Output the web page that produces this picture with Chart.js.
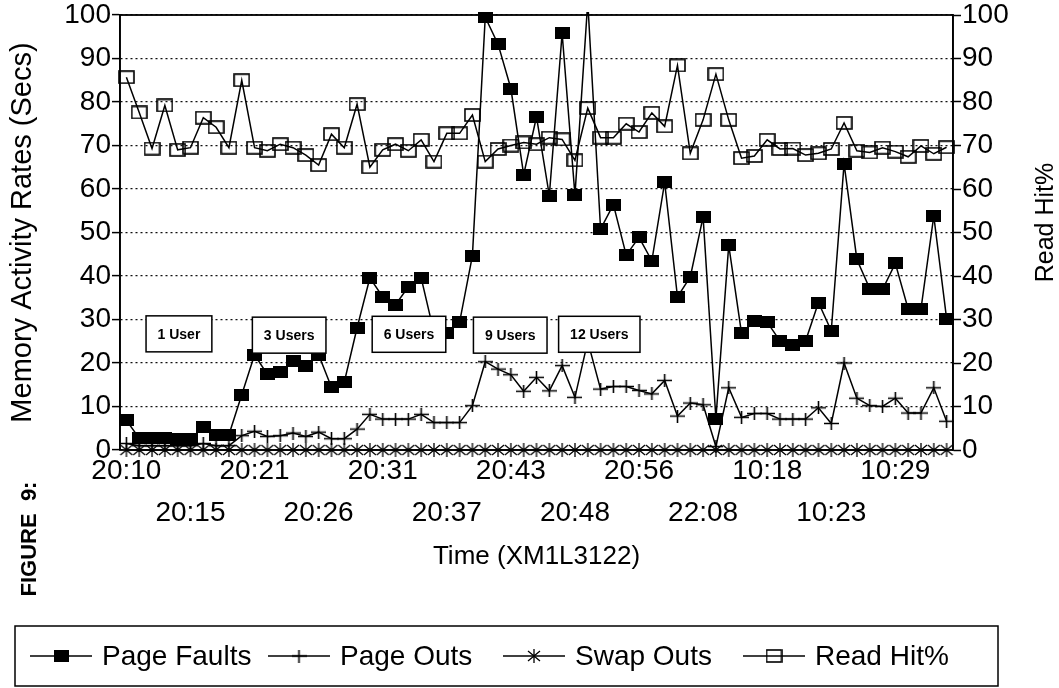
<!DOCTYPE html>
<html>
<head>
<meta charset="utf-8">
<script src="https://cdn.jsdelivr.net/npm/chart.js@4.4.1/dist/chart.umd.min.js"></script>
<style>
  html, body { margin: 0; padding: 0; background: #ffffff; }
  canvas { display: block; }
</style>
</head>
<body>
<canvas id="chart" width="1059" height="688"></canvas>
<script>
// Sample times shown under every fifth sample
const tickLabels = ['20:10', '20:15', '20:21', '20:26', '20:31', '20:37', '20:43',
                    '20:48', '20:56', '22:08', '10:18', '10:23', '10:29'];

// Memory activity rates (secs), left axis
const pageFaults = [6.8, 2.7, 2.8, 2.8, 2.6, 2.5, 5.3, 3.5, 3.5, 12.7,
                    21.9, 17.4, 18.0, 20.5, 19.4, 21.9, 14.4, 15.6, 28.1, 39.6,
                    35.2, 33.4, 37.5, 39.6, 27.0, 27.0, 29.4, 44.7, 99.5, 93.3,
                    83.1, 63.3, 76.6, 58.5, 95.8, 58.6, 103, 50.8, 56.4, 44.8,
                    48.9, 43.5, 61.5, 35.2, 39.8, 53.6, 7.2, 47.1, 26.8, 29.6,
                    29.4, 25.1, 24.1, 25.1, 33.9, 27.4, 65.8, 43.8, 37.1, 36.9,
                    42.9, 32.4, 32.4, 53.8, 30.2];
const pageOuts = [1.5, 1.0, 1.0, 1.0, 1.0, 1.0, 1.5, 1.0, 1.0, 3.3,
                  4.3, 3.1, 3.3, 3.9, 3.1, 4.1, 2.6, 2.6, 4.8, 8.2,
                  7.1, 7.1, 7.1, 8.2, 6.3, 6.3, 6.3, 10.2, 20.3, 18.6,
                  17.3, 13.5, 16.7, 13.6, 19.4, 12.1, 25.0, 14.0, 14.6, 14.6,
                  13.7, 12.9, 16.0, 7.8, 10.8, 10.4, 0.8, 14.3, 7.5, 8.4,
                  8.4, 7.1, 7.1, 7.1, 9.7, 6.1, 20.0, 11.9, 10.2, 10.0,
                  11.9, 8.5, 8.5, 14.3, 6.6];
const swapOuts = [0, 0, 0, 0, 0, 0, 0, 0, 0, 0,
                  0, 0, 0, 0, 0, 0, 0, 0, 0, 0,
                  0, 0, 0, 0, 0, 0, 0, 0, 0, 0,
                  0, 0, 0, 0, 0, 0, 0, 0, 0, 0,
                  0, 0, 0, 0, 0, 0, 0, 0, 0, 0,
                  0, 0, 0, 0, 0, 0, 0, 0, 0, 0,
                  0, 0, 0, 0, 0];
// Read hit percentage, right axis
const readHit = [85.7, 77.6, 69.3, 79.2, 69.0, 69.5, 76.4, 74.2, 69.5, 85.0,
                 69.5, 68.8, 70.3, 69.5, 67.8, 65.5, 72.6, 69.5, 79.5, 65.0,
                 69.0, 70.3, 68.8, 71.3, 66.3, 72.8, 72.8, 77.0, 66.3, 69.2,
                 70.0, 70.7, 70.3, 71.8, 71.4, 66.6, 78.6, 71.8, 71.8, 75.0,
                 73.1, 77.5, 74.4, 88.4, 68.2, 75.9, 86.4, 75.9, 67.1, 67.6,
                 71.3, 69.2, 69.3, 67.8, 68.2, 69.2, 75.2, 68.8, 68.4, 69.5,
                 68.6, 67.4, 69.9, 68.1, 69.6];

// User-load notes: text, sample position and level on the left axis
const noteLabels = ['1 User', '3 Users', '6 Users', '9 Users', '12 Users'];
const notePositions = [4.1, 12.7, 22.05, 29.95, 36.9];
const noteLevels = [26.7, 26.4, 26.6, 26.4, 26.6];

const seriesNames = ['Page Faults', 'Page Outs', 'Swap Outs', 'Read Hit%'];

const categories = pageFaults.map((_, i) => (i % 5 === 0 ? tickLabels[i / 5] : ''));

const FONT = '"Liberation Sans", Arial, Helvetica, sans-serif';

// Marker glyphs drawn once on small canvases
function glyph(w, h, draw) {
  const c = document.createElement('canvas');
  c.width = w; c.height = h;
  const g = c.getContext('2d');
  g.strokeStyle = '#000'; g.fillStyle = '#000'; g.lineWidth = 1.6;
  draw(g, w, h);
  return c;
}
const filledBox = glyph(15, 12, (g, w, h) => { g.fillRect(0, 0, w, h); });
const openBox = glyph(17, 14, (g, w, h) => { g.strokeRect(1, 1, w - 2, h - 2); });
const plusMark = glyph(15, 13, (g, w, h) => {
  g.beginPath();
  g.moveTo(0, h / 2); g.lineTo(w, h / 2);
  g.moveTo(w / 2, 0); g.lineTo(w / 2, h);
  g.stroke();
});
const starMark = glyph(14, 14, (g, w, h) => {
  g.lineWidth = 1.3;
  g.beginPath();
  g.moveTo(w / 2, 0); g.lineTo(w / 2, h);
  g.moveTo(1, 2); g.lineTo(w - 1, h - 2);
  g.moveTo(w - 1, 2); g.lineTo(1, h - 2);
  g.stroke();
});
const markers = [filledBox, plusMark, starMark, openBox];

// Frame round the plotting area, the white note boxes, captions and legend
const framePlugin = {
  id: 'frame',
  beforeDatasetsDraw(chart) {
    const { ctx, chartArea: a } = chart;
    ctx.save();
    ctx.strokeStyle = '#000';
    ctx.lineWidth = 1.8;
    ctx.strokeRect(a.left, a.top, a.right - a.left, a.bottom - a.top);
    ctx.restore();
  },
  afterDatasetsDraw(chart) {
    const { ctx } = chart;
    const x = chart.scales.x, y = chart.scales.y;
    ctx.save();
    ctx.font = 'bold 14px ' + FONT;
    ctx.textAlign = 'center';
    ctx.textBaseline = 'middle';
    noteLabels.forEach((t, k) => {
      const cx = x.getPixelForValue(notePositions[k]);
      const cy = y.getPixelForValue(noteLevels[k]);
      const w = ctx.measureText(t).width + 23;
      const h = 36;
      ctx.fillStyle = '#fff';
      ctx.fillRect(cx - w / 2, cy - h / 2, w, h);
      ctx.strokeStyle = '#000';
      ctx.lineWidth = 1.5;
      ctx.strokeRect(cx - w / 2, cy - h / 2, w, h);
      ctx.fillStyle = '#000';
      ctx.fillText(t, cx, cy + 1);
    });
    ctx.restore();
  },
  afterDraw(chart) {
    const { ctx } = chart;
    const H = chart.height;
    const a = chart.chartArea;

    // right axis title, reading upwards
    ctx.save();
    ctx.translate(1046, (a.top + a.bottom) / 2 - 10);
    ctx.rotate(-Math.PI / 2);
    ctx.font = '25px ' + FONT;
    ctx.fillStyle = '#000';
    ctx.textAlign = 'center';
    ctx.textBaseline = 'middle';
    ctx.fillText('Read Hit%', 0, 0);
    ctx.restore();

    // figure caption, turned on its side
    ctx.save();
    ctx.translate(30, 539);
    ctx.rotate(-Math.PI / 2);
    ctx.font = 'bold 22px ' + FONT;
    ctx.fillStyle = '#000';
    ctx.textAlign = 'center';
    ctx.textBaseline = 'middle';
    ctx.fillText('FIGURE  9:', 0, 0);
    ctx.restore();

    // legend box
    ctx.save();
    const top = H - 62, bh = 60;
    ctx.strokeStyle = '#000';
    ctx.lineWidth = 1.5;
    ctx.strokeRect(15, top, 983, bh);
    const cy = top + bh / 2;
    const starts = [30, 268, 503, 743];
    ctx.font = '28px ' + FONT;
    ctx.textBaseline = 'middle';
    ctx.fillStyle = '#000';
    seriesNames.forEach((name, k) => {
      const sx = starts[k];
      ctx.beginPath();
      ctx.moveTo(sx, cy); ctx.lineTo(sx + 62, cy);
      ctx.lineWidth = 1.5;
      ctx.stroke();
      const m = markers[k];
      ctx.drawImage(m, sx + 31 - m.width / 2, cy - m.height / 2);
      ctx.fillText(name, sx + 72, cy + 1);
    });
    ctx.restore();
  }
};

function series(label, data, k, axis) {
  return {
    label, data, yAxisID: axis,
    borderColor: '#000', borderWidth: 1.5,
    backgroundColor: '#000',
    pointStyle: markers[k], pointRadius: 7, pointHoverRadius: 7,
    tension: 0, fill: false,
    clip: { left: 12, right: 12, top: 3, bottom: 12 }
  };
}

new Chart(document.getElementById('chart'), {
  type: 'line',
  data: {
    labels: categories,
    datasets: [
      series(seriesNames[0], pageFaults, 0, 'y'),
      series(seriesNames[1], pageOuts, 1, 'y'),
      series(seriesNames[2], swapOuts, 2, 'y'),
      series(seriesNames[3], readHit, 3, 'y1')
    ]
  },
  options: {
    responsive: false,
    animation: false,
    layout: { padding: { top: 15, bottom: 100, left: 0, right: 0 } },
    plugins: { legend: { display: false }, tooltip: { enabled: false } },
    scales: {
      x: {
        type: 'category',
        offset: true,
        grid: { display: false, drawTicks: false },
        border: { display: false },
        ticks: {
          autoSkip: false, maxRotation: 0, minRotation: 0, padding: 0,
          color: '#000',
          font: { family: FONT, size: 28, lineHeight: 1.5 },
          callback(value, index) {
            if (index % 5 !== 0) return null;
            const lab = this.getLabelForValue(value);
            return (index / 5) % 2 === 0 ? [lab, ''] : ['', lab];
          }
        },
        title: {
          display: true, text: 'Time (XM1L3122)', color: '#000',
          font: { family: FONT, size: 26, lineHeight: 1.2 },
          padding: { top: 0, bottom: 16 }
        },
        afterFit(s) { s.height = 138; }
      },
      y: {
        position: 'left', min: 0, max: 100,
        grid: { color: '#111', lineWidth: 1.2, drawTicks: true, tickLength: 8, tickColor: '#000', tickWidth: 1.5 },
        border: { display: true, color: '#000', width: 1.5, dash: [2, 3] },
        ticks: { stepSize: 10, padding: 1, color: '#000', font: { family: FONT, size: 28, lineHeight: 1 } },
        title: {
          display: true, text: 'Memory Activity Rates (Secs)', color: '#000',
          font: { family: FONT, size: 29, lineHeight: 1.2 },
          padding: { top: 6, bottom: 0 }
        },
        afterFit(s) { s.width = 120; }
      },
      y1: {
        position: 'right', min: 0, max: 100,
        grid: { drawOnChartArea: false, drawTicks: true, tickLength: 8, tickColor: '#000', tickWidth: 1.5 },
        border: { display: true, color: '#000', width: 1.5 },
        ticks: { stepSize: 10, padding: 1, color: '#000', font: { family: FONT, size: 28, lineHeight: 1 } },
        title: { display: false },
        afterFit(s) { s.width = 106; }
      }
    }
  },
  plugins: [framePlugin]
});
</script>
</body>
</html>
